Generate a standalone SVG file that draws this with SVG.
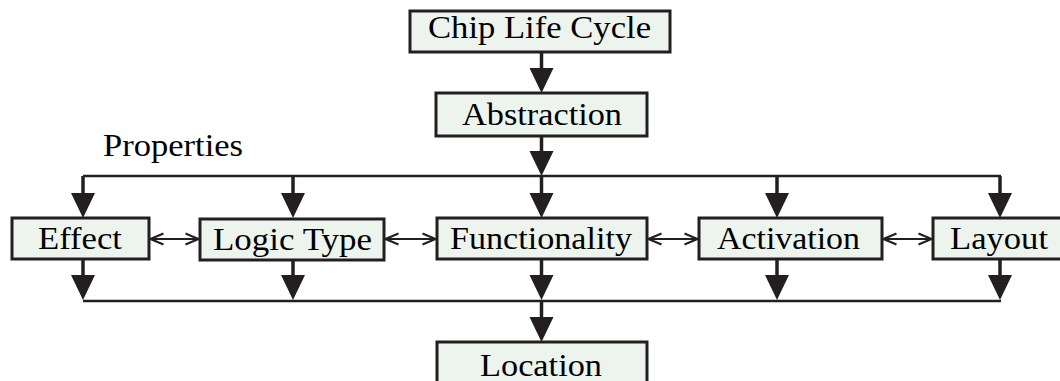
<svg xmlns="http://www.w3.org/2000/svg" width="1060" height="381" viewBox="0 0 1060 381">
  <style>
    .box { fill: #edf4ee; stroke: #231f20; stroke-width: 3; }
    .lbl { font-family: 'Liberation Serif', serif; font-size: 32px; fill: #000; text-anchor: middle; }
    .wire { stroke: #231f20; stroke-width: 2.5; fill: none; }
    .stem { stroke: #231f20; stroke-width: 3.5; fill: none; }
    .head { fill: #231f20; }
    .both { stroke: #231f20; stroke-width: 2.2; fill: none; marker-start: url(#open-start); marker-end: url(#open-end); }
  </style>
  <defs>
    <marker id="open-end" viewBox="0 0 16 16" refX="15" refY="8" markerWidth="16" markerHeight="16" markerUnits="userSpaceOnUse" orient="auto">
      <path d="M2,2.5 L15,8 L2,13.5" fill="none" stroke="#231f20" stroke-width="2.2"/>
    </marker>
    <marker id="open-start" viewBox="0 0 16 16" refX="1" refY="8" markerWidth="16" markerHeight="16" markerUnits="userSpaceOnUse" orient="auto">
      <path d="M14,2.5 L1,8 L14,13.5" fill="none" stroke="#231f20" stroke-width="2.2"/>
    </marker>
    <!-- filled downward arrowhead, tip at origin -->
    <path id="down" d="M-12,-25 L12,-25 L0,0 Z"/>
  </defs>

  <rect width="1060" height="381" fill="#fff"/>

  <g id="connectors">
    <!-- trunk -->
    <line class="stem" x1="541.5" y1="52" x2="541.5" y2="80"/>
    <use href="#down" class="head" x="541.5" y="93"/>
    <line class="stem" x1="541.5" y1="136" x2="541.5" y2="160"/>
    <use href="#down" class="head" x="541.5" y="176"/>

    <!-- distribution bus -->
    <line class="wire" x1="83" y1="176" x2="1001" y2="176"/>
    <line class="stem" x1="83" y1="176" x2="83" y2="200"/>
    <use href="#down" class="head" x="83" y="218"/>
    <line class="stem" x1="293" y1="176" x2="293" y2="200"/>
    <use href="#down" class="head" x="293" y="218"/>
    <line class="stem" x1="541.5" y1="176" x2="541.5" y2="200"/>
    <use href="#down" class="head" x="541.5" y="218"/>
    <line class="stem" x1="777" y1="176" x2="777" y2="200"/>
    <use href="#down" class="head" x="777" y="218"/>
    <line class="stem" x1="1000" y1="176" x2="1000" y2="200"/>
    <use href="#down" class="head" x="1000" y="218"/>

    <!-- collection bus -->
    <line class="stem" x1="83" y1="259" x2="83" y2="280"/>
    <use href="#down" class="head" x="83" y="300"/>
    <line class="stem" x1="293" y1="260" x2="293" y2="280"/>
    <use href="#down" class="head" x="293" y="300"/>
    <line class="stem" x1="541.5" y1="259" x2="541.5" y2="280"/>
    <use href="#down" class="head" x="541.5" y="300"/>
    <line class="stem" x1="777" y1="259" x2="777" y2="280"/>
    <use href="#down" class="head" x="777" y="300"/>
    <line class="stem" x1="1000" y1="259" x2="1000" y2="280"/>
    <use href="#down" class="head" x="1000" y="300"/>
    <line class="wire" x1="83" y1="301" x2="1001" y2="301"/>
    <line class="stem" x1="541.5" y1="300" x2="541.5" y2="325"/>
    <use href="#down" class="head" x="541.5" y="342"/>

    <!-- peer links -->
    <line class="both" x1="150.5" y1="239" x2="198.5" y2="239"/>
    <line class="both" x1="385.5" y1="239" x2="435.5" y2="239"/>
    <line class="both" x1="648.5" y1="239" x2="697.5" y2="239"/>
    <line class="both" x1="883.5" y1="239" x2="931.5" y2="239"/>
  </g>

  <g id="chip-life-cycle">
    <rect class="box" x="410" y="11" width="260" height="41"/>
    <text class="lbl" x="539.5" y="38" textLength="223" lengthAdjust="spacingAndGlyphs">Chip Life Cycle</text>
  </g>
  <g id="abstraction">
    <rect class="box" x="436" y="93" width="211" height="43"/>
    <text class="lbl" x="542" y="125" textLength="160" lengthAdjust="spacingAndGlyphs">Abstraction</text>
  </g>
  <g id="properties">
    <text class="lbl" x="103" y="156" style="text-anchor:start" textLength="140" lengthAdjust="spacingAndGlyphs">Properties</text>
  </g>
  <g id="effect">
    <rect class="box" x="12" y="218" width="137" height="41"/>
    <text class="lbl" x="80" y="249" textLength="84" lengthAdjust="spacingAndGlyphs">Effect</text>
  </g>
  <g id="logic-type">
    <rect class="box" x="200" y="219" width="184" height="41"/>
    <text class="lbl" x="292.5" y="250" textLength="159" lengthAdjust="spacingAndGlyphs">Logic Type</text>
  </g>
  <g id="functionality">
    <rect class="box" x="437" y="218" width="210" height="41"/>
    <text class="lbl" x="541" y="249" textLength="182" lengthAdjust="spacingAndGlyphs">Functionality</text>
  </g>
  <g id="activation">
    <rect class="box" x="699" y="218" width="183" height="41"/>
    <text class="lbl" x="788.5" y="249" textLength="143" lengthAdjust="spacingAndGlyphs">Activation</text>
  </g>
  <g id="layout">
    <rect class="box" x="933" y="218" width="130" height="41"/>
    <text class="lbl" x="999" y="249" textLength="98" lengthAdjust="spacingAndGlyphs">Layout</text>
  </g>
  <g id="location">
    <rect class="box" x="437" y="342" width="210" height="45"/>
    <text class="lbl" x="541" y="376" textLength="122" lengthAdjust="spacingAndGlyphs">Location</text>
  </g>
</svg>
